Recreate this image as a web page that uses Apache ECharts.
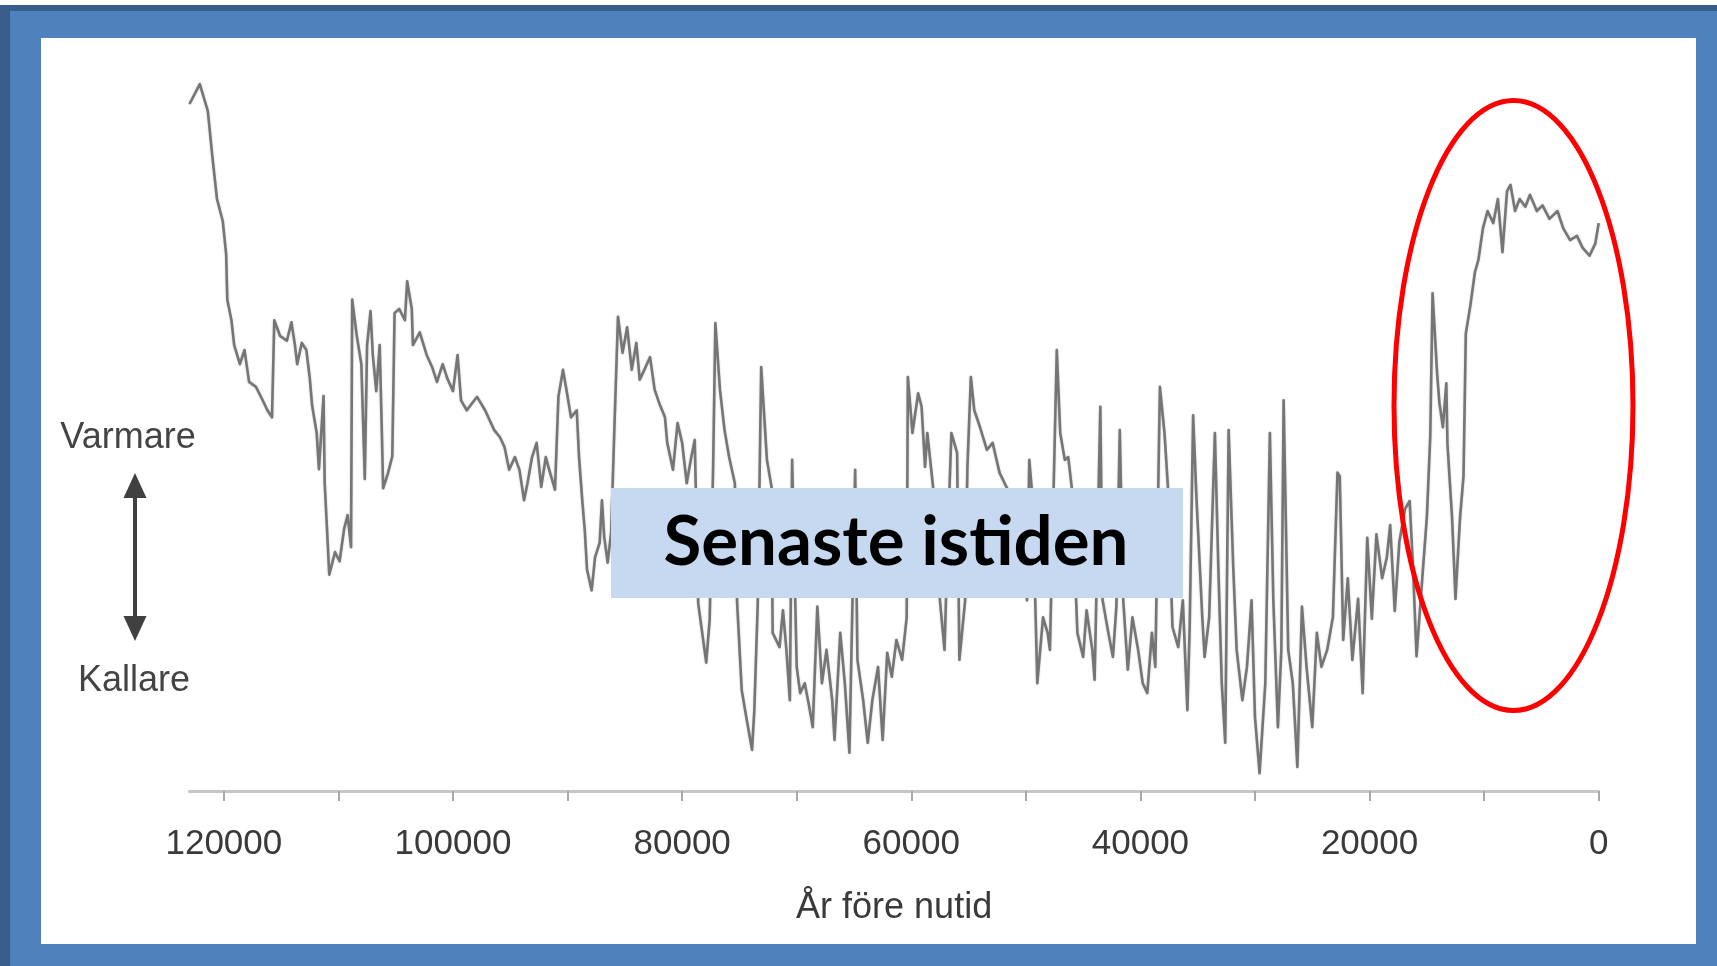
<!DOCTYPE html>
<html>
<head>
<meta charset="utf-8">
<script src="https://cdn.jsdelivr.net/npm/echarts@6/dist/echarts.min.js"></script>
<style>
html,body{margin:0;padding:0;background:#fff;}
#chart{width:1717px;height:966px;}
</style>
</head>
<body>
<div id="chart"></div>
<script>
// Years before present (x) and relative temperature index (y, 0 = cold, 100 = warm)
const yearsBP = [
123000,122100,121400,121000,120600,120100,119800,119700,119340,119100,118600,118200,117800,117200,116700,116200,115800,115600,115100,114500,114100,113800,113600,113200,112800,112500,112300,111900,111700,111300,111200,111000,110800,110300,109900,109500,109200,108900,108800,108400,108000,107700,107500,107200,107000,106700,106400,106200,106100,105700,105300,105100,104700,104200,104000,103600,103500,102900,102300,101800,101400,100900,100500,100000,99600,99300,98800,
97900,97200,96800,96400,95900,95500,95100,94600,94200,93800,93500,93100,92700,92300,91900,91600,91100,90800,90400,90100,89700,89200,89000,88700,88500,88300,87900,87600,87200,87000,86800,86500,86200,85900,85600,85200,84800,84400,84000,83700,83300,82800,82400,82000,81500,81300,80800,80400,80000,79600,79200,78900,78600,78200,77900,77600,77300,77100,76700,76300,75900,75400,75200,74800,74400,73900,73700,73400,
73100,72600,72200,72100,71500,71200,70900,70600,70400,70000,69700,69300,68900,68600,68200,67800,67400,66900,66700,66200,65800,65400,64900,64700,64200,63800,63400,62900,62500,62100,61700,61300,60800,60400,60300,59900,59400,59100,58800,58600,58100,57500,57100,56800,56500,56000,55800,55300,55100,54800,54500,54000,53400,52900,52300,51700,51100,50500,49900,49700,49400,49000,48500,48100,
47900,47300,47000,46600,46300,46000,45500,45000,44700,44200,44000,43500,43300,42800,42400,42100,41800,41500,41100,40700,40200,39800,39400,39000,38700,38300,37900,37600,37200,36700,36300,35900,35700,35400,35100,34600,34400,34000,33500,33200,32900,32600,32300,31900,31600,31100,30700,30300,30000,29600,29100,28700,28400,28000,27700,27500,27100,26700,26300,25900,25500,25000,24600,24200,23700,23200,22800,
22600,22300,21900,21500,21000,20600,20200,19800,19400,18900,18500,18200,17800,17400,16900,16500,16200,15900,15400,15000,14700,14500,14100,13900,13600,13300,13200,12800,12500,12300,12100,11800,11600,11200,10800,10500,10100,9700,9200,8800,8400,8000,7700,7300,6900,6400,6000,5400,4900,4300,3600,3100,2500,1900,1400,800,300,0
];
const tempIndex = [
96.9,99.7,95.9,89.4,83.5,80.4,75.7,69.3,66.4,62.9,60.2,62.2,57.7,57.0,55.4,53.7,52.7,66.4,64.2,63.5,66.1,62.9,60.2,63.2,62.2,58.2,54.4,50.5,45.4,55.7,43.4,37.0,30.5,33.7,32.4,37.0,38.9,34.4,69.3,64.2,60.2,44.0,62.9,67.7,61.5,56.4,62.9,49.9,42.7,44.7,47.2,67.4,68.0,66.4,71.9,68.0,62.9,64.7,61.5,59.7,57.7,60.2,58.2,56.4,61.5,55.1,53.7,
55.6,53.7,52.3,50.9,49.9,48.5,45.3,47.1,45.3,41.0,43.4,47.1,49.1,42.9,47.1,45.3,42.5,55.6,59.4,56.6,52.7,53.7,47.1,40.6,36.8,31.2,28.3,33.0,35.0,41.0,35.8,32.2,36.4,51.9,66.9,61.8,65.4,59.4,63.2,58.0,59.4,61.2,56.6,54.7,52.7,49.1,45.3,51.9,49.1,43.4,47.1,49.5,26.5,21.7,18.1,24.1,45.3,66.0,56.6,50.9,47.1,43.4,26.5,14.2,10.4,5.8,11.4,26.5,
59.8,46.7,42.9,22.3,20.3,25.5,19.9,12.8,46.7,17.5,13.8,15.2,11.8,9.0,26.0,15.2,19.9,12.8,7.2,22.3,15.2,5.4,45.3,18.5,12.8,6.8,12.8,17.5,7.2,19.5,16.1,21.3,18.5,24.5,58.4,50.5,56.1,54.2,45.7,50.5,42.9,26.9,19.9,36.4,50.5,47.7,18.5,26.9,45.7,58.4,53.7,51.3,48.1,49.1,44.9,42.9,41.0,38.6,26.9,46.7,41.0,15.2,24.5,22.3,
19.9,62.2,50.5,46.7,47.1,42.9,22.3,18.9,25.5,19.9,15.7,54.2,26.9,22.3,18.9,26.0,50.9,26.9,17.1,24.5,19.9,15.2,13.8,22.3,17.5,57.0,50.5,42.9,23.1,20.3,26.9,11.4,23.1,53.0,41.0,24.5,18.9,24.5,50.5,31.6,15.2,6.8,50.9,31.6,19.9,12.8,17.5,26.9,10.4,2.5,15.2,50.5,26.9,9.0,19.9,55.1,19.9,15.2,3.4,26.0,17.5,9.0,22.3,17.5,19.9,24.5,44.9,
44.4,21.3,30.0,18.5,27.1,13.8,35.7,24.3,36.2,30.0,32.9,37.5,25.4,35.1,39.8,40.9,31.2,19.0,30.0,38.6,50.1,70.2,58.8,54.7,51.3,57.5,48.9,38.6,27.1,32.9,38.6,44.4,64.5,68.5,73.2,74.9,79.4,81.8,80.1,83.5,76.0,84.6,85.5,81.8,83.5,82.4,84.1,81.8,82.6,80.7,81.8,79.4,77.7,78.3,76.6,75.5,77.2,80.1
];
const tickYears = [0,10000,20000,30000,40000,50000,60000,70000,80000,90000,100000,110000,120000];
const labelYears = [0,20000,40000,60000,80000,100000,120000];
const xAxisTitle = 'År före nutid';
const warmLabel = 'Varmare';
const coldLabel = 'Kallare';
const boxLabel = 'Senaste istiden';

const seriesData = yearsBP.map((y, i) => [y, tempIndex[i]]);

const chart = echarts.init(document.getElementById('chart'), null, {renderer: 'canvas'});
chart.setOption({
  animation: false,
  backgroundColor: '#ffffff',
  grid: {left: 189.5, right: 118.3, top: 82, bottom: 175, outerBoundsMode: 'none', containLabel: false},
  xAxis: {
    type: 'value',
    inverse: true,
    min: 0,
    max: 123000,
    interval: 10000,
    splitLine: {show: false},
    axisLine: {show: true, lineStyle: {color: '#c6c6c6', width: 3}},
    axisTick: {show: true, customValues: tickYears, length: 10, lineStyle: {color: '#a8a8a8', width: 2}},
    axisLabel: {
      customValues: labelYears,
      formatter: v => String(v),
      fontFamily: 'Liberation Sans', fontSize: 35, color: '#3a3a3a', margin: 36
    },
    name: xAxisTitle,
    nameLocation: 'middle',
    nameGap: 99,
    nameTextStyle: {fontFamily: 'Liberation Sans', fontSize: 36, color: '#3a3a3a'}
  },
  yAxis: {type: 'value', min: 0, max: 100, show: false, splitLine: {show: false}},
  series: [{
    type: 'line',
    data: seriesData,
    showSymbol: false,
    silent: true,
    lineStyle: {color: '#6c6c6c', width: 2.6, join: 'round', opacity: 0.9, shadowColor: 'rgba(0,0,0,0.25)', shadowBlur: 2},
    z: 2
  }],
  graphic: [
    {type: 'rect', z: -10, shape: {x: 0, y: 5, width: 1717, height: 961}, style: {fill: '#385D8A'}},
    {type: 'rect', z: -10, shape: {x: 10, y: 11, width: 1707, height: 955}, style: {fill: '#4F81BD'}},
    {type: 'rect', z: -10, shape: {x: 41, y: 38, width: 1655, height: 906}, style: {fill: '#ffffff'}},
    {type: 'text', z: 50, x: 128, y: 438, style: {text: warmLabel, fontFamily: 'Liberation Sans', fontSize: 36, fill: '#444444', align: 'center', verticalAlign: 'middle'}},
    {type: 'text', z: 50, x: 134, y: 681, style: {text: coldLabel, fontFamily: 'Liberation Sans', fontSize: 36, fill: '#444444', align: 'center', verticalAlign: 'middle'}},
    {type: 'line', z: 50, shape: {x1: 135, y1: 492, x2: 135, y2: 622}, style: {stroke: '#404040', lineWidth: 4}},
    {type: 'polygon', z: 50, shape: {points: [[135, 473], [123.5, 498], [146.5, 498]]}, style: {fill: '#404040'}},
    {type: 'polygon', z: 50, shape: {points: [[135, 641], [123.5, 616], [146.5, 616]]}, style: {fill: '#404040'}},
    {type: 'rect', z: 60, shape: {x: 611, y: 488, width: 572, height: 110}, style: {fill: '#C6D9F1'}},
    {type: 'text', z: 61, x: 896, y: 543, style: {text: boxLabel, fontFamily: 'Lato', fontWeight: 'bold', fontSize: 69, fill: '#000000', align: 'center', verticalAlign: 'middle'}},
    {type: 'ellipse', z: 70, shape: {cx: 1513.5, cy: 405.5, rx: 119.5, ry: 305}, style: {fill: 'none', stroke: '#FF0000', lineWidth: 5}}
  ]
});
</script>
</body>
</html>
